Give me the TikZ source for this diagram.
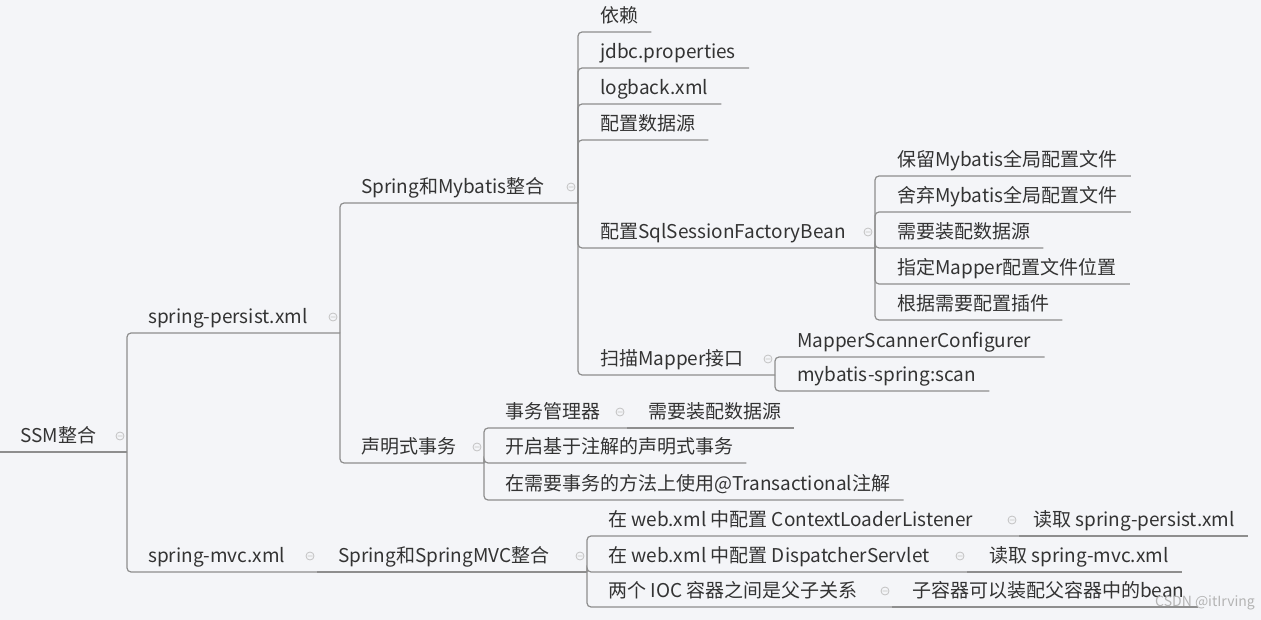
\documentclass[tikz,border=0pt]{standalone}
\usepackage{fontspec}
\setmainfont{Noto Sans CJK SC}
\usepackage{xcolor}
\definecolor{inkgray}{HTML}{333333}
\definecolor{linegray}{HTML}{8E8E8E}
\definecolor{foldgray}{HTML}{C2C2C2}
\definecolor{markgray}{HTML}{B4B4B4}
\definecolor{paper}{HTML}{F4F5F8}
\usetikzlibrary{calc}
\tikzset{
  topic/.style={anchor=south west, inner xsep=0pt, inner ysep=5pt,
    text height=14pt, text depth=4pt, text=inkgray,
    font=\fontsize{19pt}{22pt}\selectfont},
  branch/.style={draw=linegray, line width=1.2pt, rounded corners=4pt},
  foldmark/.style={draw=foldgray, line width=0.8pt},
}
% small collapse sign left of a fork
\newcommand\collapsemark[1]{%
  \draw[foldmark] ([shift={(-7,-16)}]#1) circle [radius=4pt]
    ([shift={(-9.5,-16)}]#1) -- ([shift={(-4.5,-16)}]#1);}

\begin{document}
\begin{tikzpicture}[x=1pt,y=-1pt]
        \fill[paper] (0,0) rectangle (1261,620);
        \useasboundingbox (0,0) rectangle (1261,620);

        % root and first level
        \coordinate (ssm-in) at (0,452);
        \node[topic] (ssm) at (20,452) {SSM整合};
        \coordinate (ssm-f) at (127,452);
        \node[topic] (persist) at (148,333) {spring-persist.xml};
        \coordinate (persist-f) at (340,333);
        \node[topic] (mvc) at (148,572) {spring-mvc.xml};
        \coordinate (mvc-f) at (317,572);

        % spring-persist.xml
        \node[topic] (spmb) at (361,203) {Spring和Mybatis整合};
        \coordinate (spmb-f) at (578,203);
        \node[topic] (tx) at (361,463) {声明式事务};
        \coordinate (tx-f) at (484,463);

        \node[topic] (dep) at (600,32) {依赖};
        \node[topic] (jdbc) at (600,68) {jdbc.properties};
        \node[topic] (logback) at (600,104) {logback.xml};
        \node[topic] (ds) at (600,140) {配置数据源};
        \node[topic] (sqlsf) at (600,248) {配置SqlSessionFactoryBean};
        \coordinate (sqlsf-f) at (875,248);
        \node[topic] (scan) at (600,375) {扫描Mapper接口};
        \coordinate (scan-f) at (775,375);

        \node[topic] (keep) at (897,176) {保留Mybatis全局配置文件};
        \node[topic] (drop) at (897,212) {舍弃Mybatis全局配置文件};
        \node[topic] (needds) at (897,248) {需要装配数据源};
        \node[topic] (mloc) at (897,284) {指定Mapper配置文件位置};
        \node[topic] (plug) at (897,320) {根据需要配置插件};

        \node[topic] (msc) at (797,357) {MapperScannerConfigurer};
        \node[topic] (mss) at (797,391) {mybatis-spring:scan};

        \node[topic] (tm) at (505,428) {事务管理器};
        \coordinate (tm-f) at (627,428);
        \node[topic] (tmds) at (648,428) {需要装配数据源};
        \node[topic] (anno) at (505,463) {开启基于注解的声明式事务};
        \node[topic] (use) at (505,500) {在需要事务的方法上使用@Transactional注解};

        % spring-mvc.xml
        \node[topic] (smvc) at (338,572) {Spring和SpringMVC整合};
        \coordinate (smvc-f) at (587,572);
        \node[topic] (cll) at (608,536) {在 web.xml 中配置 ContextLoaderListener};
        \coordinate (cll-f) at (1019,536);
        \node[topic] (cllr) at (1033,536) {读取 spring-persist.xml};
        \node[topic] (dsv) at (608,572) {在 web.xml 中配置 DispatcherServlet};
        \coordinate (dsv-f) at (967,572);
        \node[topic] (dsvr) at (989,572) {读取 spring-mvc.xml};
        \node[topic] (ioc) at (608,607) {两个 IOC 容器之间是父子关系};
        \coordinate (ioc-f) at (892,607);
        \node[topic] (iocr) at (912,607) {子容器可以装配父容器中的bean};

        % connectors
        \draw[branch] (ssm-in) -- (ssm-f);
        \draw[branch] (ssm-f) |- (persist-f);
        \draw[branch] (ssm-f) |- (mvc-f);
        \draw[branch] (persist-f) |- (spmb-f);
        \draw[branch] (persist-f) |- (tx-f);
        \foreach \n in {dep,jdbc,logback,ds}
          \draw[branch] (spmb-f) |- ([xshift=13pt]\n.south east);
        \draw[branch] (spmb-f) |- (sqlsf-f);
        \draw[branch] (spmb-f) |- (scan-f);
        \foreach \n in {keep,drop,needds,mloc,plug}
          \draw[branch] (sqlsf-f) |- ([xshift=13pt]\n.south east);
        \foreach \n in {msc,mss}
          \draw[branch] (scan-f) |- ([xshift=13pt]\n.south east);
        \draw[branch] (tx-f) |- (tm-f);
        \draw[branch] (tm-f) -- ([xshift=13pt]tmds.south east);
        \foreach \n in {anno,use}
          \draw[branch] (tx-f) |- ([xshift=13pt]\n.south east);
        \draw[branch] (mvc-f) -- (smvc-f);
        \draw[branch] (smvc-f) |- (cll-f);
        \draw[branch] (cll-f) -- ([xshift=13pt]cllr.south east);
        \draw[branch] (smvc-f) |- (dsv-f);
        \draw[branch] (dsv-f) -- ([xshift=13pt]dsvr.south east);
        \draw[branch] (smvc-f) |- (ioc-f);
        \draw[branch] (ioc-f) -- ([xshift=13pt]iocr.south east);

        % collapse signs
        \foreach \f in {ssm-f,persist-f,mvc-f,spmb-f,tx-f,sqlsf-f,scan-f,tm-f,smvc-f,cll-f,dsv-f,ioc-f}
          {\collapsemark{\f}}

        \node[anchor=west, inner sep=0pt, text=markgray, font=\fontsize{14pt}{16pt}\selectfont] (mark) at (1155,603) {CSDN @itIrving};
      \end{tikzpicture}
\end{document}
